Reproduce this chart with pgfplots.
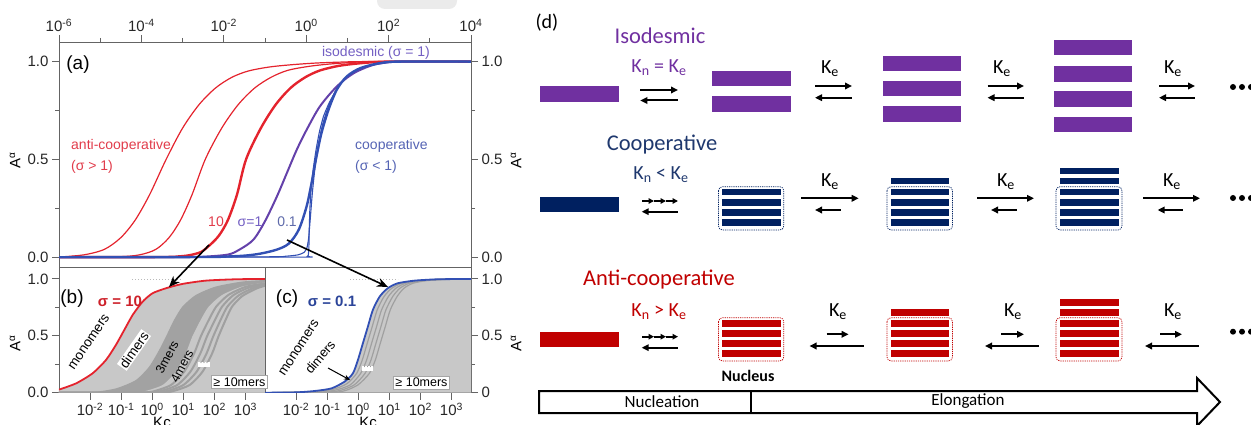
\documentclass[border=0pt]{standalone}
\usepackage{fontspec}
\setmainfont{Liberation Sans}
\newfontfamily\calib{Carlito}
\usepackage{pgfplots}
\pgfplotsset{compat=1.18}
\usetikzlibrary{arrows.meta}

\definecolor{cRed}{RGB}{228,35,45}
\definecolor{cPur}{RGB}{100,65,170}
\definecolor{cBlu}{RGB}{50,80,180}
\definecolor{tRed}{RGB}{225,60,75}
\definecolor{tPur}{RGB}{115,95,195}
\definecolor{tBlu}{RGB}{85,100,180}
\definecolor{axg}{RGB}{100,100,100}
\definecolor{lgray}{RGB}{200,200,200}
\definecolor{dgray}{RGB}{162,162,162}
\definecolor{mgray}{RGB}{160,160,160}
\definecolor{dPur}{RGB}{112,48,160}
\definecolor{dNav}{RGB}{0,32,96}
\definecolor{dRed}{RGB}{192,0,0}
\definecolor{tNav}{RGB}{31,56,110}

\tikzset{
 fa/.style={-{Triangle[length=7pt,width=6.5pt]},line width=2pt},
 ba/.style={{Triangle[length=7pt,width=6.5pt]}-,line width=2pt},
 ta/.style={-{Triangle[length=5.5pt,width=5.5pt]},line width=1.6pt},
 kf/.style={font=\calib\fontsize{20}{24}\selectfont},
 lf/.style={font=\fontsize{14}{17}\selectfont},
}
\pgfplotsset{
 panel/.style={scale only axis, tick align=outside,
   axis line style={axg,line width=0.9pt},
   every tick/.style={axg,line width=0.9pt},
   major tick length=7pt, minor tick length=4pt,
   ticklabel style={font=\fontsize{15}{18}\selectfont, text=black!85}},
}

\begin{document}
\begin{tikzpicture}

% faint grey shape at the top edge of the reference
\begin{axis}[at={(0pt,0pt)}, anchor=south west, scale only axis, width=1251pt, height=425pt,
  xmin=0, xmax=1251, ymin=0, ymax=425, y dir=reverse, hide axis, clip=false]
\fill[gray!16, rounded corners=8pt] (377,-12) rectangle (457,9);
\end{axis}

% ---------------- panel (a)
\begin{axis}[panel, at={(59pt,158pt)}, anchor=south west, width=412pt, height=225pt,
  xmin=-6, xmax=4, ymin=-0.05, ymax=1.10,
  xtick={-6,-4,-2,0,2,4},
  xticklabels={10\textsuperscript{-6},10\textsuperscript{-4},10\textsuperscript{-2},10\textsuperscript{0},10\textsuperscript{2},10\textsuperscript{4}},
  minor xtick={-5,-3,-1,1,3},
  xtick pos=top, xticklabel pos=top,
  ytick={0,0.5,1}, yticklabels={0.0,0.5,1.0}, minor ytick={0.25,0.75},
  ytick pos=left]
\addplot[cRed, line width=1.2pt, smooth, tension=0.5] coordinates {
(-6,0.001) (-5.4,0.012) (-4.9,0.04) (-4.5,0.1) (-4.15,0.19) (-3.8,0.32) (-3.4,0.5) (-3.0,0.66) (-2.6,0.78) (-2.2,0.865) (-1.8,0.92) (-1.4,0.952) (-0.9,0.972) (-0.4,0.983) (0.2,0.992) (0.8,0.997) (1.5,1) (4,1)};
\addplot[cRed, line width=1.2pt, smooth, tension=0.5] coordinates {
(-6,0) (-4.6,0.002) (-4.05,0.012) (-3.65,0.04) (-3.33,0.1) (-3.05,0.19) (-2.77,0.32) (-2.45,0.5) (-2.05,0.66) (-1.65,0.78) (-1.25,0.865) (-0.85,0.92) (-0.45,0.955) (0.05,0.975) (0.55,0.987) (1.15,0.996) (1.6,1) (4,1)};
\addplot[cRed, line width=2.4pt, smooth, tension=0.5] coordinates {
(-6,0) (-3.5,0.001) (-3.1,0.004) (-2.84,0.01) (-2.56,0.026) (-2.36,0.058) (-2.12,0.11) (-1.9,0.19) (-1.68,0.32) (-1.46,0.5) (-1.1,0.66) (-0.74,0.78) (-0.38,0.865) (-0.02,0.92) (0.34,0.955) (0.79,0.978) (1.24,0.99) (1.74,0.998) (2.2,1) (4,1)};
\addplot[cPur, line width=2pt, smooth, tension=0.5] coordinates {
(-6,0) (-3,0.0005) (-2.46,0.003) (-1.89,0.014) (-1.61,0.04) (-1.28,0.09) (-1.0,0.184) (-0.71,0.311) (-0.47,0.43) (-0.23,0.549) (0.01,0.651) (0.33,0.77) (0.74,0.872) (1.15,0.94) (1.63,0.983) (2.12,0.999) (2.5,1) (4,1)};
\addplot[cBlu, line width=1.1pt, smooth, tension=0.3] coordinates {
(-6,0) (-0.1,0.0005) (0.02,0.003) (0.05,0.01) (0.065,0.05) (0.075,0.15) (0.09,0.25) (0.12,0.35) (0.17,0.45) (0.24,0.55) (0.32,0.64) (0.42,0.72) (0.56,0.79) (0.76,0.865) (1.0,0.925) (1.33,0.967) (1.8,0.992) (2.3,1) (4,1)};
\addplot[cBlu, line width=1.1pt, smooth, tension=0.4] coordinates {
(-6,0) (-1,0.002) (-0.5,0.005) (-0.2,0.012) (-0.05,0.025) (0.02,0.05) (0.06,0.1) (0.1,0.2) (0.15,0.33) (0.22,0.47) (0.3,0.58) (0.4,0.68) (0.54,0.77) (0.74,0.86) (0.98,0.922) (1.31,0.966) (1.79,0.992) (2.28,1) (4,1)};
\addplot[cBlu, line width=2.4pt, smooth, tension=0.5] coordinates {
(-6,0) (-2.5,0.001) (-2,0.003) (-1.5,0.008) (-1.12,0.018) (-0.71,0.039) (-0.42,0.07) (-0.18,0.141) (0.01,0.26) (0.13,0.379) (0.25,0.515) (0.37,0.634) (0.54,0.753) (0.74,0.855) (0.98,0.923) (1.31,0.966) (1.79,0.992) (2.28,1) (4,1)};
\end{axis}
\begin{axis}[panel, at={(59pt,158pt)}, anchor=south west, width=412pt, height=225pt,
  xmin=-6, xmax=4, ymin=-0.05, ymax=1.10, hide x axis, axis y line*=right,
  ytick={0,0.5,1}, yticklabels={0.0,0.5,1.0}, minor ytick={0.25,0.75},
  ytick pos=right, yticklabel pos=right]
\end{axis}

% ---------------- panel (b)
\begin{axis}[panel, at={(59pt,32.3pt)}, anchor=south west, width=206pt, height=125.7pt,
  xmin=-3, xmax=3.63, ymin=0, ymax=1.105,
  xtick={-2,-1,0,1,2,3},
  xticklabels={10\textsuperscript{-2},10\textsuperscript{-1},10\textsuperscript{0},10\textsuperscript{1},10\textsuperscript{2},10\textsuperscript{3}},
  xtick pos=bottom,
  ytick={0,0.5,1}, yticklabels={0.0,0.5,1.0}, minor ytick={0.25,0.75}, ytick pos=left]
\addplot[fill=lgray, draw=none, smooth, tension=0.4] coordinates {
(-3,0.027) (-2.45,0.082) (-1.92,0.17) (-1.49,0.287) (-1.17,0.419) (-0.9,0.551) (-0.63,0.683) (-0.31,0.80) (0.01,0.874) (0.44,0.918) (0.97,0.956) (1.72,0.985) (2.68,0.997) (3.63,1)} \closedcycle;
\addplot[fill=dgray, draw=none, smooth, tension=0.4] coordinates {
(-3,0) (-1.92,0.006) (-1.17,0.038) (-0.53,0.111) (-0.10,0.229) (0.22,0.375) (0.44,0.493) (0.70,0.639) (0.97,0.757) (1.40,0.859) (2.04,0.933) (2.89,0.977) (3.63,0.991)} \closedcycle;
\addplot[fill=lgray, draw=none, smooth, tension=0.4] coordinates {
(-3,0) (-0.9,0.001) (-0.31,0.009) (0.33,0.067) (0.76,0.185) (1.08,0.346) (1.29,0.493) (1.56,0.639) (1.82,0.757) (2.25,0.859) (2.89,0.933) (3.63,0.968)} \closedcycle;
\addplot[mgray, line width=2pt, smooth, tension=0.4] coordinates {
(-3,0) (-0.5,0.001) (0,0.009) (0.6,0.067) (1.03,0.185) (1.35,0.346) (1.56,0.493) (1.82,0.639) (2.06,0.757) (2.45,0.859) (3.0,0.93) (3.63,0.96)};
\addplot[mgray, line width=2pt, smooth, tension=0.4] coordinates {
(-3,0) (-0.3,0.001) (0.2,0.009) (0.8,0.067) (1.23,0.185) (1.55,0.346) (1.76,0.493) (2.02,0.639) (2.25,0.757) (2.62,0.859) (3.12,0.925) (3.63,0.952)};
\addplot[mgray, line width=2pt, smooth, tension=0.4] coordinates {
(-3,0) (-0.1,0.001) (0.4,0.009) (1.0,0.067) (1.43,0.185) (1.75,0.346) (1.96,0.493) (2.2,0.639) (2.42,0.757) (2.78,0.855) (3.25,0.92) (3.63,0.945)};
\addplot[mgray, line width=2pt, smooth, tension=0.4] coordinates {
(-3,0) (0.1,0.001) (0.6,0.009) (1.2,0.067) (1.62,0.185) (1.93,0.346) (2.13,0.493) (2.36,0.639) (2.57,0.757) (2.9,0.85) (3.35,0.915) (3.63,0.94)};
\addplot[cRed, line width=1.8pt, smooth, tension=0.4] coordinates {
(-3,0.027) (-2.45,0.082) (-1.92,0.17) (-1.49,0.287) (-1.17,0.419) (-0.9,0.551) (-0.63,0.683) (-0.31,0.80) (0.01,0.874) (0.44,0.918) (0.97,0.956) (1.72,0.985) (2.68,0.997) (3.63,1)};
\end{axis}

% ---------------- panel (c)
\begin{axis}[panel, at={(265pt,32.3pt)}, anchor=south west, width=206pt, height=125.7pt,
  xmin=-3, xmax=3.63, ymin=0, ymax=1.105,
  xtick={-2,-1,0,1,2,3},
  xticklabels={10\textsuperscript{-2},10\textsuperscript{-1},10\textsuperscript{0},10\textsuperscript{1},10\textsuperscript{2},10\textsuperscript{3}},
  xtick pos=bottom,
  ytick={0,0.5,1}, yticklabels={0,0.5,1.0}, minor ytick={0.25,0.75},
  ytick pos=right, yticklabel pos=right]
\addplot[fill=lgray, draw=none, smooth, tension=0.4] coordinates {
(-3,0) (-2,0.003) (-1.4,0.015) (-0.86,0.038) (-0.44,0.097) (-0.17,0.17) (-0.01,0.287) (0.15,0.434) (0.31,0.58) (0.47,0.727) (0.69,0.845) (0.95,0.918) (1.27,0.962) (1.81,0.985) (2.56,0.997) (3.63,1)} \closedcycle;
\addplot[mgray, line width=1.2pt, smooth, tension=0.4] coordinates {
(-3,0) (-1.4,0.01) (-0.8,0.03) (-0.36,0.08) (-0.05,0.17) (0.13,0.287) (0.29,0.434) (0.45,0.58) (0.61,0.727) (0.83,0.845) (1.08,0.918) (1.4,0.962) (1.9,0.985) (2.6,0.997) (3.63,1)};
\addplot[mgray, line width=1.2pt, smooth, tension=0.4] coordinates {
(-3,0) (-1.2,0.008) (-0.7,0.025) (-0.25,0.07) (0.08,0.17) (0.27,0.287) (0.43,0.434) (0.59,0.58) (0.75,0.727) (0.97,0.845) (1.21,0.918) (1.52,0.962) (2.0,0.985) (2.7,0.997) (3.63,1)};
\addplot[mgray, line width=1.2pt, smooth, tension=0.4] coordinates {
(-3,0) (-1.0,0.006) (-0.55,0.022) (-0.12,0.07) (0.22,0.17) (0.41,0.287) (0.57,0.434) (0.73,0.58) (0.89,0.727) (1.11,0.845) (1.34,0.918) (1.64,0.962) (2.1,0.985) (2.8,0.997) (3.63,1)};
\addplot[mgray, line width=1.2pt, smooth, tension=0.4] coordinates {
(-3,0) (-0.8,0.005) (-0.4,0.02) (0.0,0.07) (0.36,0.17) (0.55,0.287) (0.71,0.434) (0.87,0.58) (1.03,0.727) (1.25,0.845) (1.47,0.918) (1.76,0.962) (2.2,0.985) (2.9,0.997) (3.63,1)};
\addplot[cBlu, line width=1.8pt, smooth, tension=0.4] coordinates {
(-3,0) (-2,0.003) (-1.4,0.015) (-0.86,0.038) (-0.44,0.097) (-0.17,0.17) (-0.01,0.287) (0.15,0.434) (0.31,0.58) (0.47,0.727) (0.69,0.845) (0.95,0.918) (1.27,0.962) (1.81,0.985) (2.56,0.997) (3.63,1)};
\end{axis}

% ---------------- overlay in pixel coordinates
\begin{axis}[at={(0pt,0pt)}, anchor=south west, scale only axis, width=1251pt, height=425pt,
  xmin=0, xmax=1251, ymin=0, ymax=425, y dir=reverse, hide axis, clip=false]
% labels of a, b, c
\node[font=\fontsize{19}{22}\selectfont] at (78,65) {(a)};
\node[font=\fontsize{19}{22}\selectfont] at (72,299) {(b)};
\node[font=\fontsize{19}{22}\selectfont] at (287,299) {(c)};
\node[lf, text=tPur] at (376,53) {isodesmic (σ = 1)};
\node[lf, text=tRed, anchor=west, inner sep=0pt] at (71,146) {anti-cooperative};
\node[lf, text=tRed, anchor=west, inner sep=0pt] at (71,166.5) {(σ > 1)};
\node[lf, text=tBlu, anchor=west, inner sep=0pt] at (355,146) {cooperative};
\node[lf, text=tBlu, anchor=west, inner sep=0pt] at (355,166.5) {(σ < 1)};
\node[lf, text=tRed, inner sep=0.5pt] at (216,222) {10};
\node[lf, text=tPur, inner sep=0.5pt] at (250,222) {σ=1};
\node[lf, text=tBlu!80!gray, inner sep=0.5pt] at (287,222) {0.1};
\node[rotate=90, font=\fontsize{15}{18}\selectfont] at (15,160) {A\textsuperscript{\fontsize{10}{12}\selectfont α}};
\node[rotate=90, font=\fontsize{15}{18}\selectfont] at (516,160) {A\textsuperscript{\fontsize{10}{12}\selectfont α}};
\node[rotate=90, font=\fontsize{15}{18}\selectfont] at (15,343) {A\textsuperscript{\fontsize{10}{12}\selectfont α}};
\node[rotate=90, font=\fontsize{15}{18}\selectfont] at (516,343) {A\textsuperscript{\fontsize{10}{12}\selectfont α}};
\node[font=\fontsize{15}{18}\selectfont, anchor=base] at (162,427) {Kc};
\node[font=\fontsize{15}{18}\selectfont, anchor=base] at (368,427) {Kc};
\node[font=\bfseries\fontsize{15}{18}\selectfont, text=cRed!90!black] at (120,301) {σ = 10};
\node[font=\bfseries\fontsize{15}{18}\selectfont, text=cBlu!85!black] at (332,301) {σ = 0.1};
\draw[gray!55, dotted, line width=1pt] (132,279) -- (182,279);
\draw[gray!55, dotted, line width=1pt] (350,279) -- (398,279);
\node[rotate=56, font=\fontsize{13.5}{16}\selectfont] at (89,342) {monomers};
\node[rotate=55, fill=white, inner sep=1pt, font=\fontsize{13.5}{16}\selectfont] at (134,350) {dimers};
\node[rotate=62, inner sep=0pt, font=\fontsize{12.5}{15}\selectfont] at (167,357) {3mers};
\node[rotate=62, inner sep=0pt, font=\fontsize{12.5}{15}\selectfont] at (182,366) {4mers};
\fill[white] (198,361.5) rectangle (210,366.5);
\node[gray, font=\fontsize{9}{9}\selectfont, inner sep=0pt] at (204,364) {···};
\node[draw=gray!70, fill=white, line width=0.5pt, inner sep=2pt, font=\fontsize{12.5}{14}\selectfont] at (239.5,382) {≥ 10mers};
\node[rotate=57, font=\fontsize{13.5}{16}\selectfont] at (299,348) {monomers};
\node[rotate=50, font=\fontsize{13}{16}\selectfont] at (320,357) {dimers};
\draw[-{Stealth[length=6pt,width=5pt]}, line width=1pt] (328,368) -- (350,380);
\fill[white] (362,366) rectangle (373,370.5);
\node[gray, font=\fontsize{9}{9}\selectfont, inner sep=0pt] at (367.5,368.2) {···};
\node[draw=gray!70, fill=white, line width=0.5pt, inner sep=2pt, font=\fontsize{12.5}{14}\selectfont] at (421.5,382.5) {≥ 10mers};
\draw[-{Stealth[length=11pt,width=9pt]}, line width=1.6pt] (209,245) -- (169,287);
\draw[-{Stealth[length=11pt,width=9pt]}, line width=1.6pt] (287,240) -- (388,287);

% ---------------- panel (d)
\node[font=\calib\fontsize{20}{24}\selectfont] at (547,23) {(d)};
\node[font=\calib\fontsize{22.5}{27}\selectfont, text=dPur] at (660,36) {Isodesmic};
\node[kf, text=dPur] at (659,68) {K\textsubscript{n} = K\textsubscript{e}};
\node[font=\calib\fontsize{22.5}{27}\selectfont, text=tNav] at (662,145) {Cooperative};
\node[kf, text=tNav] at (661,175) {K\textsubscript{n} < K\textsubscript{e}};
\node[font=\calib\fontsize{22.5}{27}\selectfont, text=dRed] at (659,280) {Anti-cooperative};
\node[kf, text=dRed] at (659,312) {K\textsubscript{n} > K\textsubscript{e}};
% isodesmic bars
\fill[dPur] (540,86) rectangle (618.7,101.7);
\fill[dPur] (711.6,70.7) rectangle (790.7,86);
\fill[dPur] (711.6,96) rectangle (790.7,111.7);
\fill[dPur] (882.6,56) rectangle (961,71);
\fill[dPur] (882.6,81) rectangle (961,96);
\fill[dPur] (882.6,106) rectangle (961,121.7);
\fill[dPur] (1054,40) rectangle (1132,55);
\fill[dPur] (1054,66) rectangle (1132,81.7);
\fill[dPur] (1054,91) rectangle (1132,106.7);
\fill[dPur] (1054,116.7) rectangle (1132,132.3);
\draw[fa] (640.3,90) -- (678,90);
\draw[ba] (640.3,100.5) -- (678,100.5);
\draw[fa] (815,86) -- (852,86);
\draw[ba] (815,97.7) -- (852,97.7);
\draw[fa] (987.5,86) -- (1024,86);
\draw[ba] (987.5,97.7) -- (1024,97.7);
\draw[fa] (1159,86) -- (1195,86);
\draw[ba] (1159,97.7) -- (1195,97.7);
\node[kf] at (830,69) {K\textsubscript{e}};
\node[kf] at (1002,69) {K\textsubscript{e}};
\node[kf] at (1173,69) {K\textsubscript{e}};
\fill (1233,87) circle[radius=3pt];
\fill (1242,87) circle[radius=3pt];
\fill (1251,87) circle[radius=3pt];
% cooperative
\fill[dNav] (540,196.7) rectangle (618.7,212.3);
\draw[ta] (642,201) -- (654,201);
\draw[ta] (654,201) -- (666,201);
\draw[ta] (666,201) -- (678,201);
\draw[ba] (641.7,211.7) -- (678,211.7);
\draw[dNav, line width=0.7pt, dash pattern=on 1.2pt off 1pt, rounded corners=4pt] (718.5,186.7) rectangle (783.8,230);
\fill[dNav] (722,189) rectangle (780.6,195.5);
\fill[dNav] (722,199) rectangle (780.6,205.5);
\fill[dNav] (722,209) rectangle (780.6,215.5);
\fill[dNav] (722,219) rectangle (780.6,225.5);
\draw[dNav, line width=0.7pt, dash pattern=on 1.2pt off 1pt, rounded corners=4pt] (887,186.7) rectangle (952.5,230);
\fill[dNav] (891,178) rectangle (949,184.5);
\fill[dNav] (891,189) rectangle (949,195.5);
\fill[dNav] (891,199) rectangle (949,205.5);
\fill[dNav] (891,209) rectangle (949,215.5);
\fill[dNav] (891,219) rectangle (949,225.5);
\draw[dNav, line width=0.7pt, dash pattern=on 1.2pt off 1pt, rounded corners=4pt] (1056,186.7) rectangle (1122,230);
\fill[dNav] (1060,168) rectangle (1118.5,174.5);
\fill[dNav] (1060,178) rectangle (1118.5,184.5);
\fill[dNav] (1060,189) rectangle (1118.5,195.5);
\fill[dNav] (1060,199) rectangle (1118.5,205.5);
\fill[dNav] (1060,209) rectangle (1118.5,215.5);
\fill[dNav] (1060,219) rectangle (1118.5,225.5);
\draw[fa] (801,198.3) -- (858.7,198.3);
\draw[ba] (815,210) -- (841,210);
\draw[fa] (977,198.3) -- (1034,198.3);
\draw[ba] (991,210) -- (1017,210);
\draw[fa] (1143,198.3) -- (1200,198.3);
\draw[ba] (1157.6,210) -- (1183,210);
\node[kf] at (830,182) {K\textsubscript{e}};
\node[kf] at (1006,182) {K\textsubscript{e}};
\node[kf] at (1172,182) {K\textsubscript{e}};
\fill (1233,198) circle[radius=3pt];
\fill (1242,198) circle[radius=3pt];
\fill (1251,198) circle[radius=3pt];
% anti-cooperative
\fill[dRed] (540,331.7) rectangle (618.7,347.3);
\draw[ta] (642,336.7) -- (654,336.7);
\draw[ta] (654,336.7) -- (666,336.7);
\draw[ta] (666,336.7) -- (678,336.7);
\draw[ba] (641.7,347.7) -- (678,347.7);
\draw[dRed, line width=0.7pt, dash pattern=on 1.2pt off 1pt, rounded corners=4pt] (718.5,317.7) rectangle (783.8,361);
\fill[dRed] (722,320) rectangle (780.6,326.5);
\fill[dRed] (722,330) rectangle (780.6,336.5);
\fill[dRed] (722,340) rectangle (780.6,346.5);
\fill[dRed] (722,350) rectangle (780.6,356.5);
\draw[dRed, line width=0.7pt, dash pattern=on 1.2pt off 1pt, rounded corners=4pt] (887,317.7) rectangle (952.5,361);
\fill[dRed] (891,309) rectangle (949,315.5);
\fill[dRed] (891,320) rectangle (949,326.5);
\fill[dRed] (891,330) rectangle (949,336.5);
\fill[dRed] (891,340) rectangle (949,346.5);
\fill[dRed] (891,350) rectangle (949,356.5);
\draw[dRed, line width=0.7pt, dash pattern=on 1.2pt off 1pt, rounded corners=4pt] (1056,317.7) rectangle (1122,361);
\fill[dRed] (1060,299) rectangle (1118.5,305.5);
\fill[dRed] (1060,309) rectangle (1118.5,315.5);
\fill[dRed] (1060,320) rectangle (1118.5,326.5);
\fill[dRed] (1060,330) rectangle (1118.5,336.5);
\fill[dRed] (1060,340) rectangle (1118.5,346.5);
\fill[dRed] (1060,350) rectangle (1118.5,356.5);
\draw[fa] (826.5,334.3) -- (848.6,334.3);
\draw[ba] (809.5,346) -- (864,346);
\draw[fa] (1001,334.3) -- (1024,334.3);
\draw[ba] (985,346) -- (1039,346);
\draw[fa] (1160,334.3) -- (1182,334.3);
\draw[ba] (1145,346) -- (1199,346);
\node[kf] at (838,312) {K\textsubscript{e}};
\node[kf] at (1013,312) {K\textsubscript{e}};
\node[kf] at (1173,312) {K\textsubscript{e}};
\fill (1233,331.7) circle[radius=3pt];
\fill (1242,331.7) circle[radius=3pt];
\fill (1251,331.7) circle[radius=3pt];
% nucleation / elongation arrow
\node[font=\calib\bfseries\fontsize{16}{19}\selectfont] at (748,376) {Nucleus};
\draw[line width=2pt, line join=miter] (539,391) -- (1197,391) -- (1197,378) -- (1220,402) -- (1197,426) -- (1197,413) -- (539,413) -- cycle;
\draw[line width=2pt] (750.7,391) -- (750.7,413);
\node[font=\calib\fontsize{17}{20}\selectfont] at (662,402) {Nucleation};
\node[font=\calib\fontsize{17}{20}\selectfont] at (968,401) {Elongation};
\end{axis}
\pgfresetboundingbox
\path[use as bounding box] (0pt,0pt) rectangle (1251pt,425pt);
\end{tikzpicture}
\end{document}
